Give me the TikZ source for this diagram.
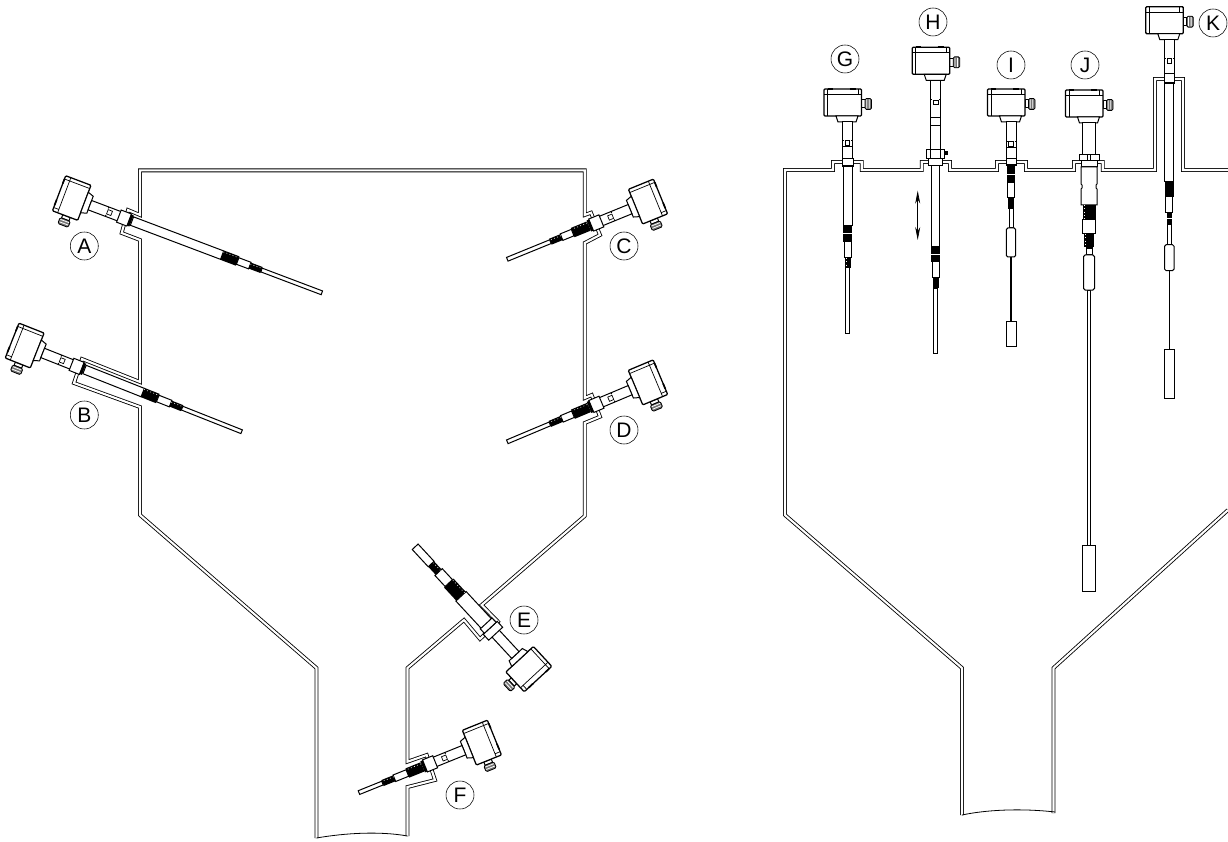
\documentclass[tikz,border=0pt]{standalone}
\usepackage{fontspec}
\usetikzlibrary{arrows.meta}
\setmainfont{Liberation Sans}
\tikzset{
  wall/.style={double=white,double distance=2.1pt,line width=.85pt,line join=miter},
  lab/.style={draw,circle,minimum size=28pt,inner sep=0pt,line width=.55pt,font=\fontsize{21}{21}\selectfont},
  part/.style={fill=white,draw=black,line width=1pt}
}
% rod section: from v1 to v2 with half width hw
\newcommand{\rodsec}[3]{\path[part] (-#3,#1) rectangle (#3,#2);}
\newcommand{\weight}[3]{\path[part,rounded corners=1.6pt] (-#3,#1) rectangle (#3,#2);}
% knurled dark band
\newcommand{\blackband}[3]{\fill[black] (-#3,#1) rectangle (#3,#2);
  \draw[white,line width=.6pt,dash pattern=on .9pt off 2.4pt] (-#3+1.6,#1) -- (-#3+1.6,#2);}
% solid band cut by a light stripe
\newcommand{\stripeband}[3]{\fill[black] (-#3,#1) rectangle (#3,#2);
  \draw[white,line width=1pt] (-#3,{(#1+#2)/2}) -- (#3,{(#1+#2)/2});}
% housing with gland, collar; #1 is the sideways offset of the box
\newcommand{\shead}[1]{%
  \begin{scope}[xshift=#1pt]
  \path[part] (14,11) rectangle (17.5,19);
  \path[fill=black!55,draw=black,line width=.8pt,rounded corners=1.4pt] (17.5,9.5) rectangle (24,20.5);
  \fill[white] (18.8,10.5) rectangle (19.6,19.5) (21.4,10.5) rectangle (22.2,19.5);
  \path[part,line width=1.25pt,rounded corners=1pt] (-23.5,0) rectangle (14,27);
  \draw[line width=.7pt] (-23.5,5.5) -- (14,5.5) (-20,0) -- (-20,27) (10.5,0) -- (10.5,5.5);
  \draw[line width=1.6pt] (-20,0) -- (-15,0) (2,0) -- (8,0);
  \end{scope}
  \path[part] (-11.5,27) -- (10.5,27) -- (8.5,33) -- (-9.5,33) -- cycle;
}
% little window in the neck
\newcommand{\swin}[1]{\path[part,line width=.7pt] (-2.3,#1-2.3) rectangle (2.3,#1+2.3);
  \draw[line width=1pt] (-5,#1-2.5) -- (-3.5,#1-2.5) (3.5,#1-2.5) -- (5,#1-2.5);}
% the tilted probe family
\newcommand{\tiltprobe}[5]{% v of 1st band start, end, 2nd band start, end, tip
  \shead{4.5}
  \rodsec{33}{66}{5}
  \swin{54}
  \rodsec{78}{#1}{4.5}
  \rodsec{64}{75}{6.5}
  \fill (-6,75) rectangle (6,77.5);
  \blackband{#1}{#2}{5}
  \rodsec{#2}{#3}{3.5}
  \blackband{#3}{#4}{3.2}
  \rodsec{#4}{#5}{2}
}
\begin{document}
\begin{tikzpicture}[x=1pt,y=-1pt]
\useasboundingbox (0,0) rectangle (1228,842);
% ---------- left tank ----------
\draw[wall] (316.5,838) -- (316.5,668) -- (140,515) -- (140,407) -- (74,383) -- (82,359) -- (140,382)
  -- (140,240) -- (121.7,233) -- (128,210) -- (140,215) -- (140,170.4) -- (584.7,170.4) -- (584.7,215)
  -- (591,212.7) -- (600,235) -- (584.7,243) -- (584.7,398) -- (591.7,395) -- (600,416.7) -- (584.7,423)
  -- (584.7,516) -- (481.7,605) -- (498,621.7) -- (480,639) -- (464,620) -- (407.5,668) -- (407.5,761.7)
  -- (426.7,755) -- (435,780) -- (407.5,787) -- (407.5,836);
\draw[line width=.8pt] (316.5,838) .. controls (345,833) and (380,831) .. (407.5,836);
% ---------- right tank ----------
\draw[wall] (962,815) -- (962,668) -- (785,515) -- (785,170) -- (833,170) -- (833,162) -- (861.7,162) -- (861.7,170)
  -- (921.7,170) -- (921.7,162) -- (950,162) -- (950,170) -- (997,170) -- (997,162) -- (1026,162) -- (1026,170)
  -- (1074,170) -- (1074,162) -- (1102.7,162) -- (1102.7,170) -- (1155,170) -- (1155,79) -- (1183,79) -- (1183,170)
  -- (1228,170);
\draw[wall] (1053.5,813) -- (1053.5,668) -- (1228,510);
\draw[line width=.8pt] (962,815) .. controls (985,810) and (1020,808) .. (1055,812);
% ---------- tilted probes ----------
\begin{scope}[shift={(59,193.5)},rotate=69.3,xscale=-1]\tiltprobe{174.4}{191}{204}{216.5}{281}\end{scope}
\begin{scope}[shift={(12,340.8)},rotate=68.4,xscale=-1]\tiltprobe{140.6}{156.8}{170.6}{183}{247}\end{scope}
\begin{scope}[shift={(660.6,196.7)},rotate=292.2]\tiltprobe{78}{95}{107}{119}{165.6}\end{scope}
\begin{scope}[shift={(660.5,377.4)},rotate=292.8]\tiltprobe{78}{95}{107}{120}{166.2}\end{scope}
\begin{scope}[shift={(494.5,737.8)},rotate=292]\tiltprobe{78}{94}{108}{120.8}{146.2}\end{scope}
\begin{scope}[shift={(537.8,679.2)},rotate=222.8]
  \shead{4.5}
  \rodsec{33}{66}{5}
  \rodsec{75}{113}{7}
  \rodsec{62}{70}{9.5}
  \rodsec{70}{76}{8}
  \blackband{113}{131}{6.5}
  \rodsec{131}{146}{5}
  \blackband{146}{157}{4}
  \rodsec{157}{180.5}{4}
\end{scope}
% ---------- vertical probes ----------
\begin{scope}[shift={(847.5,89)}]
  \shead{0} \rodsec{33}{60}{5} \swin{54}
  \rodsec{58}{70}{5} \rodsec{70}{78}{5.5} \fill (-5.5,76.5) rectangle (5.5,78);
  \rodsec{78}{137}{4.5} \stripeband{137}{153}{4.5}
  \rodsec{153}{169}{3.5} \blackband{169}{179}{3} \rodsec{179}{244}{2}
\end{scope}
\begin{scope}[shift={(935.7,47.3)}]
  \shead{0} \rodsec{33}{70}{5} \swin{55}
  \rodsec{70}{78.5}{5} \fill (-5,77.5) rectangle (5,79);
  \rodsec{78.5}{102}{5}
  \rodsec{118}{199.7}{4}
  \rodsec{102}{111}{9} \draw[line width=.7pt] (-5,102) -- (-5,111) (5,102) -- (5,111);
  \fill (9,103.5) rectangle (12,108);
  \rodsec{111}{118}{7}
  \stripeband{199.7}{214.7}{4.5}
  \rodsec{214.7}{229.7}{3.5} \fill (-3,229.7) rectangle (3,240.7); \rodsec{240.7}{305.7}{2}
\end{scope}
\begin{scope}[shift={(1011,89)}]
  \shead{0} \rodsec{33}{60}{5} \swin{55}
  \rodsec{59}{70}{5} \rodsec{70}{77}{5} \fill (-5,75.5) rectangle (5,77);
  \stripeband{77}{94}{4}
  \rodsec{94}{109}{3.5} \fill (-2.7,109) rectangle (2.7,120); \rodsec{120}{139}{2}
  \weight{139}{168}{4.7}
  \draw[line width=1.4pt] (0,168) -- (0,232);
  \rodsec{232}{257}{5}
\end{scope}
\begin{scope}[shift={(1089,90)}]
  \shead{0} \rodsec{33}{65}{6.5}
  \rodsec{65}{71}{10} \draw[line width=.7pt] (-1.5,65) -- (-1.5,71) (1.5,65) -- (1.5,71);
  \rodsec{71}{77}{8}
  \path[part] (-8,77) -- (8,77) -- (8,94) -- (7,95) -- (7,98) -- (8,99) -- (8,115)
    -- (-8,115) -- (-8,99) -- (-7,98) -- (-7,95) -- (-8,94) -- cycle;
  \blackband{115}{130}{6.5}
  \rodsec{130}{144}{6.5} \blackband{144}{157}{5} \rodsec{157}{165}{3}
  \fill (-3,157.5) rectangle (3,159);
  \rodsec{200}{455}{1.8}
  \weight{165}{200}{5.5}
  \rodsec{455}{501}{6.5}
\end{scope}
\begin{scope}[shift={(1169.3,6.7)}]
  \shead{0} \rodsec{33}{68}{5} \swin{54}
  \rodsec{67}{77}{5} \fill (-5,75.5) rectangle (5,77);
  \rodsec{77}{175}{4.5} \fill (-4.5,175) rectangle (4.5,190);
  \rodsec{190}{206}{3.5} \stripeband{206}{218}{2.7} \rodsec{218}{238}{2}
  \weight{238}{264}{4.7}
  \draw[line width=1.4pt] (0,264) -- (0,343);
  \rodsec{343}{392}{5}
\end{scope}
% travel arrow
\coordinate (travA) at (917.7,190.7);
\coordinate (travB) at (917.7,240);
\draw[line width=.7pt,{Stealth[length=13pt,width=5pt]}-{Stealth[length=13pt,width=5pt]}] (travA) -- (travB);
% ---------- labels ----------
\node[lab] (lA) at (84.3,246) {A};
\node[lab] (lB) at (84.3,415) {B};
\node[lab] (lC) at (624,246) {C};
\node[lab] (lD) at (624,430) {D};
\node[lab] (lE) at (524,620) {E};
\node[lab] (lF) at (460,795) {F};
\node[lab] (lG) at (845,59) {G};
\node[lab] (lH) at (933,22) {H};
\node[lab] (lI) at (1011,65) {I};
\node[lab] (lJ) at (1085,65) {J};
\node[lab] (lK) at (1213,23) {K};
\end{tikzpicture}
\end{document}
